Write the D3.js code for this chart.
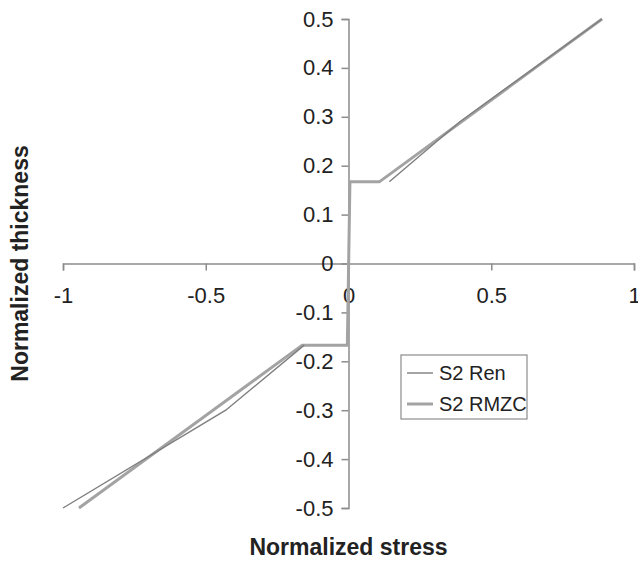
<!DOCTYPE html>
<html>
<head>
<meta charset="utf-8">
<script src="https://cdn.jsdelivr.net/npm/d3@7"></script>
<style>
  body { margin: 0; background: #fff; }
  text { font-family: "Liberation Sans", Arial, sans-serif; fill: #222; }
</style>
</head>
<body>
<div id="chart"></div>
<script>
// Series data (normalized stress, normalized thickness)
// null marks a break in the curve
var renStress    = [-1, -0.43, -0.155, null, 0.143, 0.39, 0.888];
var renThickness = [-0.5, -0.3, -0.167, null, 0.167, 0.29, 0.5];

var rmzcStress    = [-0.944, -0.162, -0.004, 0.005, 0.108, 0.888];
var rmzcThickness = [-0.5, -0.167, -0.167, 0.167, 0.167, 0.5];

var xTicks = [-1, -0.5, 0, 0.5, 1];
var yTicks = [-0.5, -0.4, -0.3, -0.2, -0.1, 0, 0.1, 0.2, 0.3, 0.4, 0.5];

var seriesNames = ["S2 Ren", "S2 RMZC"];

var width = 638, height = 562;

var svg = d3.select("#chart").append("svg")
    .attr("width", width)
    .attr("height", height);

// Scales
var x = d3.scaleLinear().domain([-1, 1]).range([63, 634]);
var y = d3.scaleLinear().domain([-0.5, 0.5]).range([508, 19]);

var axisColor = "#8c8c8c";

// plain hyphen minus, like the original
function fmt(d) { return String(+d.toFixed(1)); }

// X axis through y = 0
var gx = svg.append("g")
    .attr("transform", "translate(0," + y(0) + ")")
    .call(d3.axisBottom(x).tickValues(xTicks).tickSize(7).tickPadding(17).tickFormat(fmt));

// Y axis through x = 0
var gy = svg.append("g")
    .attr("transform", "translate(" + x(0) + ",0)")
    .call(d3.axisLeft(y).tickValues(yTicks).tickSize(7).tickPadding(8).tickFormat(fmt));

[gx, gy].forEach(function(g) {
  g.select(".domain").attr("stroke", axisColor).attr("stroke-width", 1.5);
  g.selectAll(".tick line").attr("stroke", axisColor).attr("stroke-width", 1.5);
  g.selectAll(".tick text")
    .attr("fill", "#222")
    .style("font-family", "'Liberation Sans', Arial, sans-serif")
    .style("font-size", "22px");
});
gx.selectAll(".tick text").attr("dy", "0.71em");

// Lines
var line = d3.line()
    .defined(function(d) { return d[0] != null; })
    .x(function(d) { return x(d[0]); })
    .y(function(d) { return y(d[1]); });

var rmzc = rmzcStress.map(function(s, i) { return [s, rmzcThickness[i]]; });
var ren = renStress.map(function(s, i) { return [s, renThickness[i]]; });

svg.append("path")
    .datum(rmzc)
    .attr("fill", "none")
    .attr("stroke", "#a3a3a3")
    .attr("stroke-width", 3)
    .attr("d", line);

svg.append("path")
    .datum(ren)
    .attr("fill", "none")
    .attr("stroke", "#7e7e7e")
    .attr("stroke-width", 1.4)
    .attr("d", line);

// Axis titles
svg.append("text")
    .attr("x", x(0))
    .attr("y", 555)
    .attr("text-anchor", "middle")
    .style("font-size", "23px")
    .style("font-weight", "bold")
    .text("Normalized stress");

svg.append("text")
    .attr("transform", "translate(28," + y(0) + ") rotate(-90)")
    .attr("text-anchor", "middle")
    .style("font-size", "23px")
    .style("font-weight", "bold")
    .text("Normalized thickness");

// Legend
var legend = svg.append("g").attr("transform", "translate(401,355)");
legend.append("rect")
    .attr("width", 126)
    .attr("height", 64)
    .attr("fill", "#fff")
    .attr("stroke", "#8c8c8c")
    .attr("stroke-width", 1.2);

var legendStyles = [
  {color: "#7e7e7e", w: 1.4},
  {color: "#a3a3a3", w: 3}
];

seriesNames.forEach(function(name, i) {
  var cy = 18 + i * 31;
  legend.append("line")
      .attr("x1", 6).attr("x2", 32)
      .attr("y1", cy).attr("y2", cy)
      .attr("stroke", legendStyles[i].color)
      .attr("stroke-width", legendStyles[i].w);
  legend.append("text")
      .attr("x", 38)
      .attr("y", cy)
      .attr("dy", "0.36em")
      .style("font-size", "20px")
      .text(name);
});
</script>
</body>
</html>
